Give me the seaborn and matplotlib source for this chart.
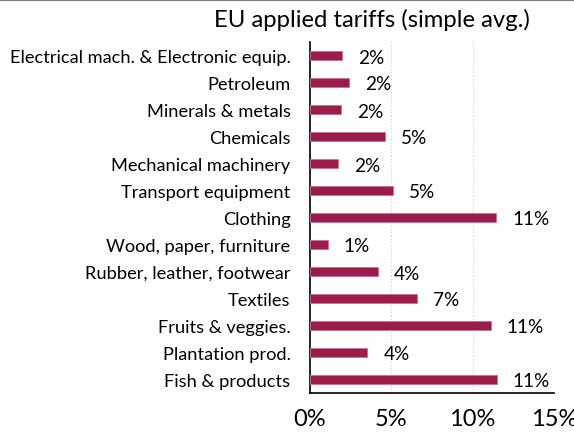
import matplotlib
matplotlib.use("Agg")
import matplotlib.pyplot as plt
from matplotlib.lines import Line2D
import seaborn as sns
import pandas as pd
import numpy as np

categories = [
    "Electrical mach. & Electronic equip.",
    "Petroleum",
    "Minerals & metals",
    "Chemicals",
    "Mechanical machinery",
    "Transport equipment",
    "Clothing",
    "Wood, paper, furniture",
    "Rubber, leather, footwear",
    "Textiles",
    "Fruits & veggies.",
    "Plantation prod.",
    "Fish & products",
]
tariffs = [1.98, 2.41, 1.88, 4.64, 1.70, 5.10, 11.45, 1.08, 4.15, 6.55, 11.10, 3.52, 11.47]
xticks = [0, 5, 10, 15]
xtick_labels = ["0%", "5%", "10%", "15%"]
title = "EU applied tariffs (simple avg.)"

sns.set_style("white")
plt.rcParams["font.family"] = ["Lato", "DejaVu Sans"]

df = pd.DataFrame({"category": categories, "tariff": tariffs})

fig = plt.figure(figsize=(5.74, 4.35), dpi=100)
ax = fig.add_axes([310 / 574, 1 - 394 / 435, (554 - 310) / 574, (394 - 43) / 435])

sns.barplot(data=df, y="category", x="tariff", orient="h", color="#9B1B4B",
            width=0.37, edgecolor="#C8709A", linewidth=0.6, saturation=1, ax=ax, zorder=3)

ax.set_xlim(0, 15)
ax.set_ylim(len(categories) - 0.5, -0.5)
ax.set_xticks(xticks)
ax.set_xticklabels(xtick_labels, fontsize=17, color="black")
ax.set_yticks(range(len(categories)))
ax.set_yticklabels(categories, fontsize=13.15, color="black")
ax.set_yticks(np.arange(-0.5, len(categories), 1), minor=True)
ax.tick_params(axis="y", which="major", length=0, pad=14)
ax.tick_params(axis="y", which="minor", length=5, width=1.2, color="black", direction="out")
ax.tick_params(axis="x", which="major", length=5, width=1.2, color="black", direction="out", pad=6)
ax.set_xlabel("")
ax.set_ylabel("")

for s in ["top", "right"]:
    ax.spines[s].set_visible(False)
for s in ["left", "bottom"]:
    ax.spines[s].set_visible(True)
    ax.spines[s].set_color("black")
    ax.spines[s].set_linewidth(1.2)

for x in [5, 10, 15]:
    ax.axvline(x, color="#D9D9D9", lw=0.8, ls=(0, (1.5, 1.5)), zorder=0)

for i, v in enumerate(tariffs):
    ax.annotate(f"{round(v):.0f}%", xy=(v, i), xytext=(16, -1.5), textcoords="offset pixels",
                va="center", ha="left", fontsize=13.7, color="black", zorder=4)

fig.text(530 / 574, 1 - 20 / 435, title, ha="right", va="center", fontsize=17.2, color="black")
fig.add_artist(Line2D([0, 1], [0.998, 0.998], transform=fig.transFigure, color="#7F7F7F", lw=1.6))

fig.savefig("out.png", dpi=100)
